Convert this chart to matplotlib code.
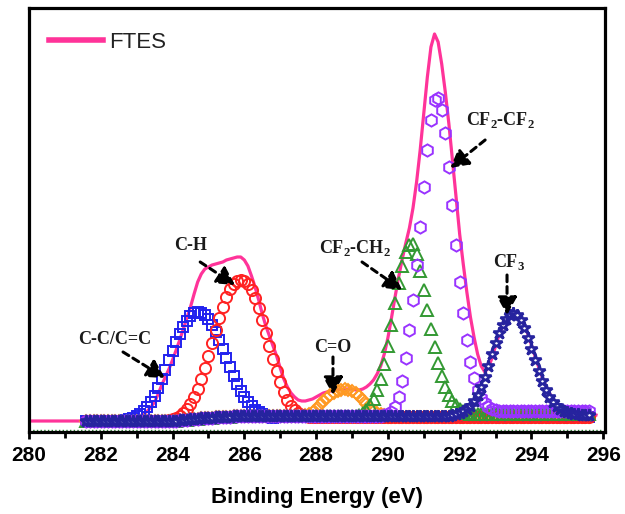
import numpy as np
import matplotlib
matplotlib.use("Agg")
import matplotlib.pyplot as plt

# C1s XPS spectrum of FTES with fitted components (intensity in arbitrary units)

# measured envelope, 280.0 - 295.8 eV, step 0.1
env_x = np.round(np.arange(280.0, 295.85, 0.1), 1)
env_y = ([11] * 27 +
         [12, 12, 13,
          14, 16, 18, 21, 25, 30, 38, 47, 55, 63,
          72, 82, 92, 103, 114, 125, 138, 150, 158, 163,
          165, 167, 168, 169, 170, 172, 173, 174, 175, 175,
          172, 166, 156, 145, 132, 118, 106, 96, 86, 76,
          64, 53, 45, 39, 35, 32, 31, 31, 32, 33,
          35, 37, 39, 40, 41, 42, 42, 43, 43, 43,
          43, 42, 42, 43, 45, 48, 52, 58, 66, 78,
          94, 114, 135, 155, 173, 189, 204, 224, 250, 282,
          318, 355, 385, 398, 390, 368, 340, 308, 272, 235,
          198, 168, 140, 115, 95, 78, 66, 60, 64, 74,
          86, 97, 106, 113, 118, 120, 119, 115, 108, 98,
          87, 76, 65, 55, 46, 39, 33, 29, 26, 24,
          22, 21, 20, 20, 19, 19, 18, 18, 17])

# fitted components share one grid, 281.6 - 295.6 eV
fit_x = np.round(np.arange(281.6, 295.65, 0.1), 1)

# background under the fit, 281.6 - 287.5 eV (flat at 16 afterwards)
background = ([11] * 24 +
              [11, 11, 12, 12, 12, 13, 13, 13, 14, 14,
               14, 14, 15, 15, 15, 15, 15, 16, 16, 16] +
              [16] * 16)

# C-C/C=C, starts at 282.7
cc_peak = [12, 13, 14, 16, 18, 21, 25, 30, 36, 44, 53, 62, 72,
           81, 90, 98, 105, 111, 116, 119, 120, 119, 117,
           113, 107, 100, 92, 83, 74, 65, 56, 48, 41,
           35, 30, 26, 22, 20, 18, 16, 15, 14]
# C-H, starts at 283.8
ch_peak = [11, 12,
           13, 14, 16, 19, 23, 28, 35, 43, 53, 64,
           76, 89, 102, 114, 125, 135, 143, 148, 151, 152,
           151, 148, 142, 134, 124, 112, 99, 86, 73, 61,
           50, 40, 32, 26, 22, 19, 17, 16, 15]
# C=O, starts at 287.5
co_peak = [16, 16, 17, 18, 20,
           23, 27, 31, 34, 37, 39, 41, 42, 43, 42,
           41, 39, 36, 32, 28, 24, 21, 19, 18, 17]
# CF2-CH2, starts at 289.0
cfch_peak = [16, 16, 17, 19, 22, 27, 33, 42, 53, 68,
             86, 107, 129, 149, 166, 180, 187, 188, 178, 161,
             142, 122, 103, 85, 69, 56, 45, 37, 31, 27,
             23, 21, 19, 18, 18, 18]
# CF2-CF2, starts at 289.7
cfcf_peak = [16, 16, 17,
             18, 20, 25, 35, 51, 74, 102, 132, 167, 205,
             245, 282, 312, 332, 334, 322, 299, 265, 227, 187,
             150, 119, 92, 70, 54, 42, 34, 29, 25, 23,
             22, 21, 21, 21]
# CF3, starts at 291.6
cf3_peak = [16, 16, 17, 18,
            19, 21, 23, 26, 31, 37, 45, 55, 66, 78,
            89, 99, 107, 113, 117, 119, 117, 112, 104, 94,
            83, 72, 61, 51, 42, 35, 30, 26, 23, 21,
            20, 19, 18, 18, 17, 17, 17]


def component(start, peak, right):
    """Background on the left, peak segment, flat tail on the right"""
    i0 = int(round((start - fit_x[0]) / 0.1))
    left = (background + [16] * len(fit_x))[:i0]
    return left + peak + [right] * (len(fit_x) - i0 - len(peak))


plt.rcParams['font.family'] = ['Liberation Sans', 'DejaVu Sans']
plt.rcParams['mathtext.fontset'] = 'custom'
plt.rcParams['mathtext.rm'] = 'Liberation Serif:bold'

fig = plt.figure(figsize=(6.25, 5.14), dpi=100)
ax = fig.add_axes([29 / 625, 82 / 514, 576 / 625, 424 / 514])

# faint green line sitting on the axis
ax.plot([280, 296], [2, 2], color='#2e7d32', lw=1, ls=':', zorder=1)

ax.plot(env_x, env_y, color='#ff3399', lw=2.3, label='FTES', zorder=2,
        solid_joinstyle='round')

mk = dict(ls='none', mew=1.4, mfc='none')
ax.plot(fit_x, component(287.5, co_peak, 15), marker='D', ms=6.5,
        mec='#ff9922', zorder=3, **mk)
ax.plot(fit_x, component(282.7, cc_peak, 15), marker='s', ms=7.3,
        mec='#2222ee', zorder=4, **mk)
ax.plot(fit_x, component(283.8, ch_peak, 15), marker='o', ms=8,
        mec='#ff2222', zorder=5, **mk)
ax.plot(fit_x, component(289.0, cfch_peak, 18), marker='^', ms=9.3,
        mec='#339933', zorder=6, **mk)
ax.plot(fit_x, component(289.7, cfcf_peak, 21), marker='h', ms=8.8,
        mec='#9933ff', zorder=7, **mk)
ax.plot(fit_x, component(291.6, cf3_peak, 17), marker='*', ms=9,
        mec='#26239e', mfc='white', ls='none', mew=1.9, zorder=8)

# peak labels with dashed arrows
def label_peak(text, txt_xy, tail, head):
    ax.text(txt_xy[0], txt_xy[1], text, ha='center', va='center',
            fontsize=13, fontweight='bold', family='Liberation Serif',
            color='#1a1a1a', zorder=10)
    ax.annotate('', xy=head, xytext=tail, zorder=10,
                arrowprops=dict(arrowstyle='-|>,head_length=0.6,head_width=0.33',
                                lw=2.2, ls=(0, (2.2, 1.6)), color='black',
                                shrinkA=0, shrinkB=0, mutation_scale=18))

label_peak('C-H', (284.49, 187), (284.77, 170), (285.74, 147))
label_peak('C-C/C=C', (282.40, 92), (282.62, 80), (283.79, 54))
label_peak('C=O', (288.47, 85), (288.47, 75), (288.47, 37))
label_peak('CF$_2$-CH$_2$', (289.09, 184), (289.28, 170), (290.40, 142))
label_peak('CF$_2$-CF$_2$', (293.13, 312), (292.71, 292), (291.74, 264))
label_peak('CF$_3$', (293.38, 170), (293.32, 157), (293.32, 117))

ax.set_xlim(280, 296.05)
ax.set_ylim(0, 424)
ax.set_xticks(np.arange(280, 297, 2))
ax.set_xticks(np.arange(281, 297, 2), minor=True)
ax.set_yticks([])
ax.tick_params(axis='x', which='major', direction='out', length=5, width=2,
               labelsize=15, pad=5)
ax.tick_params(axis='x', which='minor', direction='out', length=4, width=2)
for lab in ax.get_xticklabels():
    lab.set_fontweight('bold')
for sp in ax.spines.values():
    sp.set_linewidth(2.3)

ax.set_xlabel('Binding Energy (eV)', fontsize=16, fontweight='bold', labelpad=16)

leg = ax.legend(loc='upper left', bbox_to_anchor=(20 / 576, 400 / 424),
                frameon=False, fontsize=16, handlelength=2.45,
                handletextpad=0.25, borderpad=0, borderaxespad=0)
for t in leg.get_texts():
    t.set_color('#222222')
for h in leg.get_lines():
    h.set_linewidth(4)

fig.savefig('out.png', dpi=100)
